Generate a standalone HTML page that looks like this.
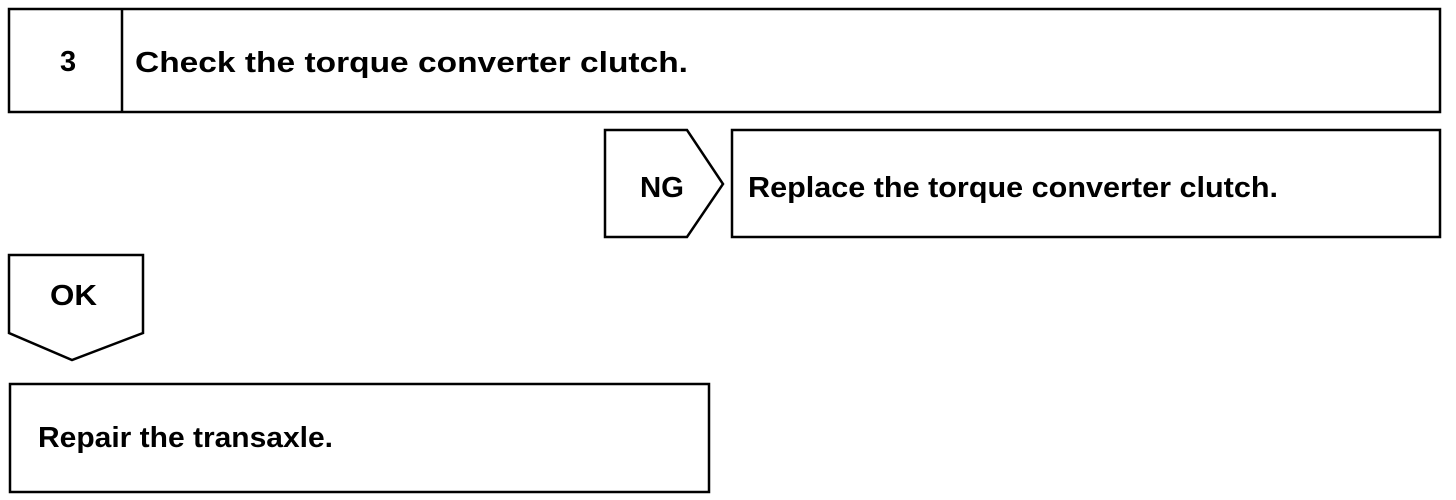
<!DOCTYPE html>
<html><head><meta charset="utf-8"><style>
html,body{margin:0;padding:0;background:#fff;}
svg{display:block}
text{font-family:"Liberation Sans",Arial,sans-serif;font-weight:bold;fill:#000}
</style></head><body>
<svg width="1456" height="500" viewBox="0 0 1456 500" xmlns="http://www.w3.org/2000/svg">
<g fill="none" stroke="#000" stroke-width="2.5">
<rect x="9" y="9" width="1431" height="103"/>
<line x1="122" y1="9" x2="122" y2="112"/>
<polygon points="605,130 687,130 723,184 687,237 605,237"/>
<rect x="732" y="130" width="708" height="107"/>
<polygon points="9,255 143,255 143,333 72,360 9,333"/>
<rect x="10" y="384" width="699" height="108"/>
</g>
<text x="60" y="71" font-size="29">3</text>
<text x="135" y="72" font-size="29" textLength="553" lengthAdjust="spacingAndGlyphs">Check the torque converter clutch.</text>
<text x="640" y="197" font-size="29" textLength="44" lengthAdjust="spacingAndGlyphs">NG</text>
<text x="748" y="197" font-size="29" textLength="530" lengthAdjust="spacingAndGlyphs">Replace the torque converter clutch.</text>
<text x="50" y="305" font-size="29" textLength="47" lengthAdjust="spacingAndGlyphs">OK</text>
<text x="38" y="447" font-size="29" textLength="295" lengthAdjust="spacingAndGlyphs">Repair the transaxle.</text>
</svg>
</body></html>
